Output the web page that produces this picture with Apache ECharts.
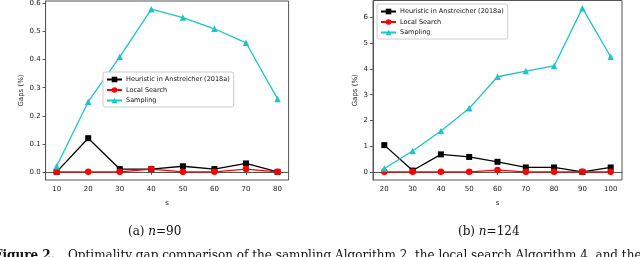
<!DOCTYPE html>
<html><head><meta charset="utf-8">
<script src="https://cdn.jsdelivr.net/npm/echarts@6/dist/echarts.min.js"></script>
<style>html,body{margin:0;padding:0;background:#fff}#c{width:640px;height:257px}</style>
</head><body><div id="c"></div>
<script>
const seriesNames = ['Heuristic in Anstreicher (2018a)', 'Local Search', 'Sampling'];
const sA = [10, 20, 30, 40, 50, 60, 70, 80];
const heurA = [0.0, 0.12, 0.01, 0.01, 0.02, 0.01, 0.03, 0.0];
const localA = [0.0, 0.0, 0.0, 0.01, 0.0, 0.0, 0.01, 0.0];
const sampA = [0.02, 0.25, 0.41, 0.58, 0.55, 0.51, 0.46, 0.26];
const yTicksA = [0, 0.1, 0.2, 0.3, 0.4, 0.5, 0.6];

const sB = [20, 30, 40, 50, 60, 70, 80, 90, 100];
const heurB = [1.04, 0.05, 0.68, 0.58, 0.39, 0.17, 0.17, 0.0, 0.17];
const localB = [0.0, 0.0, 0.0, 0.0, 0.07, 0.0, 0.0, 0.0, 0.0];
const sampB = [0.13, 0.81, 1.59, 2.47, 3.70, 3.92, 4.12, 6.37, 4.48];
const yTicksB = [0, 1, 2, 3, 4, 5, 6];

const captionA = '(a) ';
const captionB = '(b) ';
const figCaption = 'Optimality gap comparison of the sampling Algorithm 2, the local search Algorithm 4, and the best';

const colors = ['#000000', '#ff0000', '#1ec4c4'];
const symbols = ['rect', 'circle', 'triangle'];
const FONT = 'DejaVu Sans';
const SERIF = 'DejaVu Serif';
const fs = 7;

function pairs(xs, ys) { return xs.map((x, i) => [x, ys[i]]); }

function xAxis(idx, min, max, ticks) {
  return {
    type: 'value', gridIndex: idx, min, max,
    name: 's', nameLocation: 'middle', nameGap: 20,
    nameTextStyle: { fontFamily: FONT, fontSize: fs, color: '#222' },
    axisLine: { show: true, lineStyle: { color: '#555', width: 1 } },
    axisTick: { show: true, length: 3, customValues: ticks, lineStyle: { color: '#555' } },
    axisLabel: { customValues: ticks, fontFamily: FONT, fontSize: fs, color: '#222', margin: 6 },
    splitLine: { show: false }
  };
}
function yAxis(idx, min, max, ticks, fmt, gap) {
  return {
    type: 'value', gridIndex: idx, min, max,
    name: 'Gaps (%)', nameLocation: 'middle', nameGap: gap, nameRotate: 90,
    nameTextStyle: { fontFamily: FONT, fontSize: fs, color: '#222' },
    axisLine: { show: true, lineStyle: { color: '#555', width: 1 } },
    axisTick: { show: true, length: 3, customValues: ticks, lineStyle: { color: '#555' } },
    axisLabel: { customValues: ticks, formatter: fmt, fontFamily: FONT, fontSize: fs, color: '#222', margin: 5 },
    splitLine: { show: false }
  };
}
function mkSeries(idx, xs, arrs) {
  return arrs.map((ys, k) => ({
    name: seriesNames[k], type: 'line', xAxisIndex: idx, yAxisIndex: idx,
    data: pairs(xs, ys), symbol: symbols[k], symbolSize: k === 0 ? 6 : 6.5,
    showAllSymbol: true, animation: false,
    lineStyle: { color: colors[k], width: 1.3 },
    itemStyle: { color: colors[k] }
  }));
}
function legend(left, top) {
  return {
    left, top, orient: 'vertical', data: seriesNames,
    itemWidth: 15, itemHeight: 7, itemGap: 3.5,
    padding: [4, 4, 3, 3],
    borderColor: '#ccc', borderWidth: 1, borderRadius: 2, backgroundColor: '#fff',
    textStyle: { fontFamily: FONT, fontSize: 6.5, color: '#111', padding: [0, 0, 0, -1] },
    selectedMode: false
  };
}
const capRich = {
  r: { fontFamily: SERIF, fontSize: 12, fill: '#111' },
  i: { fontFamily: SERIF, fontStyle: 'italic', fontSize: 12, fill: '#111' }
};

const chart = echarts.init(document.getElementById('c'), null, { renderer: 'canvas' });
chart.setOption({
  animation: false,
  grid: [
    { left: 45.6, top: 1, width: 243, height: 179, show: true, borderColor: '#555', borderWidth: 1 },
    { left: 373, top: 0.5, width: 249, height: 179.5, show: true, borderColor: '#555', borderWidth: 1 }
  ],
  xAxis: [xAxis(0, 6.5, 83.5, sA), xAxis(1, 16, 104, sB)],
  yAxis: [
    yAxis(0, -0.029, 0.609, yTicksA, v => v.toFixed(1), 21),
    yAxis(1, -0.3175, 6.6675, yTicksB, v => String(Math.round(v)), 14)
  ],
  legend: [legend(103, 72), legend(377, 4)],
  series: [...mkSeries(0, sA, [heurA, localA, sampA]), ...mkSeries(1, sB, [heurB, localB, sampB])],
  graphic: [
    { type: 'text', left: 128, top: 226, style: { text: '{r|' + captionA + '}{i|n}{r|=90}', rich: capRich } },
    { type: 'text', left: 458, top: 226, style: { text: '{r|' + captionB + '}{i|n}{r|=124}', rich: capRich } },
    { type: 'text', x: -6, y: 250, style: { text: 'Figure 2.', font: 'bold 12px "DejaVu Serif"', fill: '#111' } },
    { type: 'text', x: 68, y: 250, style: { text: figCaption, font: '12px "DejaVu Serif"', fill: '#111' } }
  ]
});
</script></body></html>
